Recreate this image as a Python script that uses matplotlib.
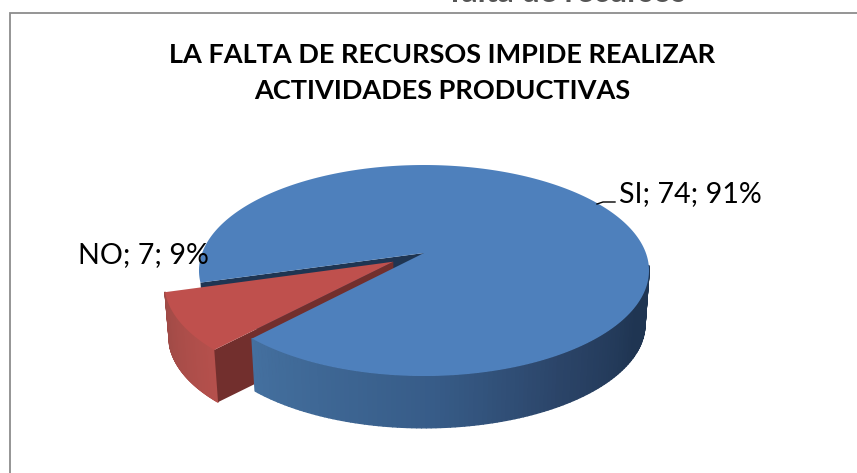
import numpy as np
import matplotlib
matplotlib.use("Agg")
import matplotlib.pyplot as plt
from matplotlib.collections import PolyCollection
from matplotlib.colors import to_rgb

categories = ["SI", "NO"]
values = [74, 7]
title_lines = ["LA FALTA DE RECURSOS IMPIDE REALIZAR", "ACTIVIDADES PRODUCTIVAS"]
cut_heading = "falta de recursos"

W, H = 857, 473
fig = plt.figure(figsize=(W / 100, H / 100), dpi=100, facecolor="white")
ax = fig.add_axes([0, 0, 1, 1])
ax.set_xlim(0, W)
ax.set_ylim(H, 0)
ax.axis("off")

# perspective model of the pie disc
CX, CY_TOP, CY_BOT = 424.0, 253.0, 307.0
A, B, P, S = 221.9, 102.6, 0.166, 0.982
START = 227.1
EXPLODE = 0.16


def project(theta, r=1.0, level=0, off=(0.0, 0.0)):
    t = np.radians(np.asarray(theta, dtype=float))
    X = r * np.cos(t) + off[0]
    Y = r * np.sin(t) + off[1]
    w = 1 + P * Y
    s = 1.0 if level == 0 else S
    cy = CY_TOP if level == 0 else CY_BOT
    return np.column_stack([CX + s * A * X / w, cy - s * B * Y / w])


def wedge(a0, a1, off=(0.0, 0.0)):
    th = np.linspace(a0, a1, 240)
    return np.vstack([project([a0], 0, 0, off), project(th, 1, 0, off)])


def cut_face(a, off=(0.0, 0.0)):
    return np.vstack([project([a], 0, 0, off), project([a], 1, 0, off),
                      project([a], 1, 1, off), project([a], 0, 1, off)])


def side(a0, a1, stops, off=(0.0, 0.0), zorder=2):
    edges = np.linspace(a0, a1, 120)
    top, bot = project(edges, 1, 0, off), project(edges, 1, 1, off)
    polys = [np.vstack([top[i], top[i + 1], bot[i + 1], bot[i]]) for i in range(len(edges) - 1)]
    mids = (edges[:-1] + edges[1:]) / 2
    xp = [s[0] for s in stops]
    rgb = np.array([to_rgb(s[1]) for s in stops])
    cols = np.column_stack([np.interp(mids, xp, rgb[:, k]) for k in range(3)])
    ax.add_collection(PolyCollection(polys, facecolors=cols, edgecolors=cols, linewidths=1.0, zorder=zorder))


frac = np.array(values, dtype=float) / sum(values)
spans = frac * 360
si0, si1 = START, START + spans[0]
no0, no1 = si1, si1 + spans[1]
mid = np.radians((no0 + no1) / 2)
off = (EXPLODE * np.cos(mid), EXPLODE * np.sin(mid))

# blue cut face seen through the gap
ax.fill(*cut_face(si1).T, color="#1f3552", lw=0, zorder=1)

# exploded red slice, behind the blue one
side(no0, no1, [(no0, "#9e4a46"), (no1, "#b5504c")], off, zorder=2)
ax.fill(*cut_face(no1, off).T, color="#722f2d", lw=0, zorder=3)
ax.fill(*wedge(no0, no1, off).T, color="#bf504d", lw=0, zorder=4)

# blue slice
side(si0, si0 + 126, [(si0, "#44709f"), (si0 + 45, "#375c88"), (si0 + 75, "#2b4468"),
                     (si0 + 105, "#1f3552"), (si0 + 126, "#1f3552")], zorder=5)
ax.fill(*wedge(si0, si1).T, color="#4e80bc", lw=0, zorder=6)

# frame (top and left only reach the picture)
ax.plot([10.5, 10.5, W], [H, 13, 13], color="#8c8c8c", lw=1.3, zorder=0, solid_joinstyle="miter")

font = ["Lato", "DejaVu Sans"]
ax.text(442, 55, title_lines[0], ha="center", va="center", family=font, weight="bold", fontsize=19.5, color="black", zorder=8)
ax.text(442, 91, title_lines[1], ha="center", va="center", family=font, weight="bold", fontsize=19.5, color="black", zorder=8)

pct = np.round(frac * 100).astype(int)
lab = [f"{c}; {v}; {p}%" for c, v, p in zip(categories, values, pct)]
ax.text(619, 194, lab[0], ha="left", va="center", family=font, fontsize=20.6, color="black", zorder=8)
ax.text(78, 255, lab[1], ha="left", va="center", family=font, fontsize=20.6, color="black", zorder=8)
ax.plot([597, 603, 615], [204, 202, 202], color="black", lw=1.0, zorder=8)

ax.text(686, 2, cut_heading, ha="right", va="baseline", family=font, weight="bold", fontsize=23, color="#555555", zorder=8, clip_on=True)

fig.savefig("out.png", dpi=100)
